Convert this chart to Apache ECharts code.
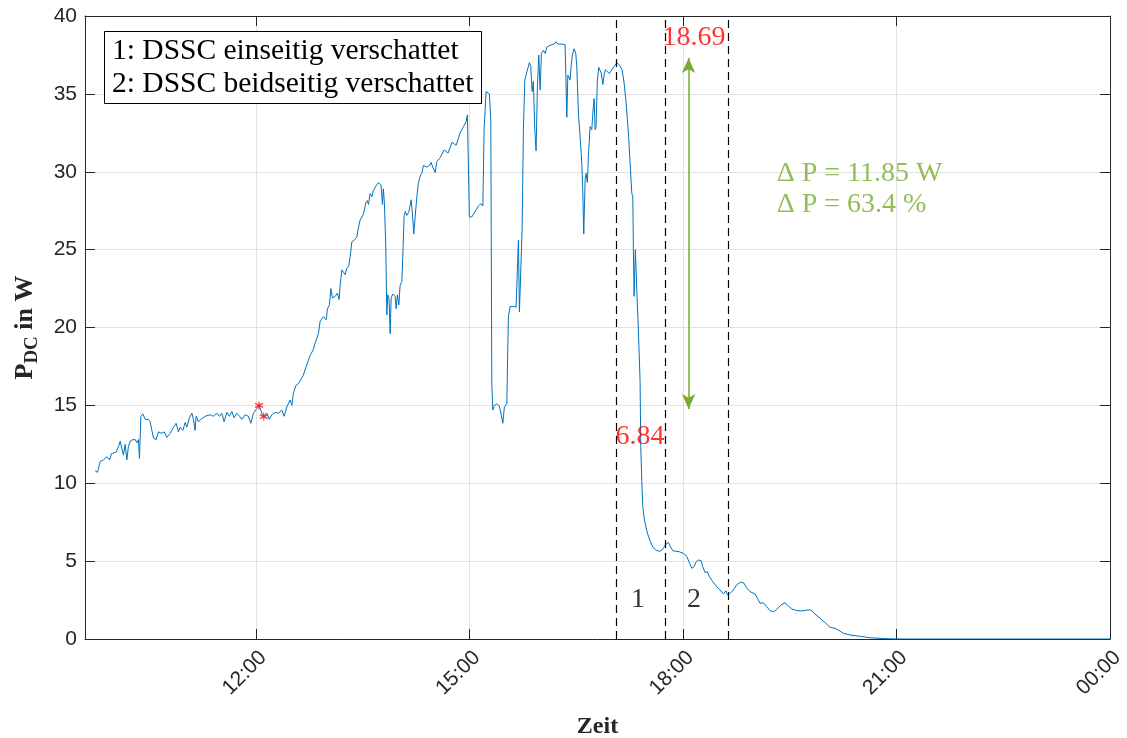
<!DOCTYPE html>
<html>
<head>
<meta charset="utf-8">
<script src="https://cdn.jsdelivr.net/npm/echarts@6/dist/echarts.min.js"></script>
<style>
  html, body { margin: 0; padding: 0; background: #fff; }
  #chart { width: 1127px; height: 738px; }
</style>
</head>
<body>
<div id="chart"></div>
<script>
// Zeitpunkte in Stunden (Dezimal) und gemessene DC-Leistung in W
const zeitStunden = [
  9.743, 9.775, 9.813, 9.859, 9.907, 9.944, 9.972, 10.038, 10.070, 10.094,
  10.118, 10.140, 10.164, 10.188, 10.210, 10.234, 10.272, 10.305, 10.328, 10.351,
  10.365, 10.385, 10.413, 10.445, 10.491, 10.515, 10.539, 10.562, 10.600, 10.632,
  10.680, 10.712, 10.750, 10.796, 10.843, 10.880, 10.913, 10.937, 10.975, 11.007,
  11.031, 11.067, 11.101, 11.123, 11.147, 11.161, 11.194, 11.227, 11.288, 11.358,
  11.404, 11.452, 11.489, 11.522, 11.555, 11.593, 11.629, 11.663, 11.695, 11.733,
  11.770, 11.803, 11.850, 11.896, 11.930, 11.966, 12.014, 12.046, 12.084, 12.112,
  12.155, 12.191, 12.225, 12.271, 12.318, 12.365, 12.398, 12.435, 12.482, 12.506,
  12.528, 12.566, 12.598, 12.622, 12.664, 12.700, 12.739, 12.763, 12.787, 12.809,
  12.833, 12.857, 12.879, 12.903, 12.950, 12.988, 13.006, 13.034, 13.054, 13.076,
  13.114, 13.146, 13.170, 13.184, 13.208, 13.231, 13.254, 13.278, 13.306, 13.325,
  13.349, 13.381, 13.419, 13.441, 13.465, 13.503, 13.521, 13.545, 13.568, 13.582,
  13.606, 13.629, 13.652, 13.690, 13.722, 13.746, 13.760, 13.778, 13.792, 13.806,
  13.826, 13.840, 13.854, 13.872, 13.887, 13.901, 13.924, 13.957, 13.971, 13.989,
  14.009, 14.027, 14.051, 14.065, 14.083, 14.101, 14.121, 14.149, 14.182, 14.200,
  14.219, 14.238, 14.262, 14.284, 14.308, 14.332, 14.354, 14.378, 14.402, 14.439,
  14.462, 14.486, 14.519, 14.543, 14.589, 14.645, 14.701, 14.757, 14.814, 14.870,
  14.916, 14.954, 14.972, 14.986, 15.000, 15.034, 15.057, 15.095, 15.127, 15.161,
  15.189, 15.207, 15.235, 15.281, 15.301, 15.315, 15.329, 15.352, 15.385, 15.422,
  15.446, 15.470, 15.492, 15.526, 15.548, 15.572, 15.619, 15.656, 15.675, 15.689,
  15.703, 15.722, 15.741, 15.759, 15.779, 15.807, 15.843, 15.863, 15.881, 15.899,
  15.919, 15.937, 15.956, 15.975, 15.994, 16.012, 16.040, 16.064, 16.088, 16.124,
  16.158, 16.190, 16.218, 16.237, 16.265, 16.298, 16.345, 16.359, 16.369, 16.383,
  16.397, 16.415, 16.429, 16.447, 16.471, 16.495, 16.509, 16.532, 16.555, 16.579,
  16.593, 16.607, 16.626, 16.640, 16.658, 16.672, 16.696, 16.720, 16.734, 16.752,
  16.766, 16.780, 16.798, 16.818, 16.836, 16.855, 16.874, 16.893, 16.911, 16.939,
  16.967, 17.001, 17.033, 17.071, 17.108, 17.145, 17.174, 17.202, 17.234, 17.258,
  17.282, 17.296, 17.304, 17.314, 17.332, 17.352, 17.374, 17.398, 17.408, 17.422,
  17.436, 17.459, 17.501, 17.539, 17.577, 17.623, 17.669, 17.703, 17.735, 17.764,
  17.796, 17.820, 17.858, 17.904, 17.950, 18.007, 18.054, 18.091, 18.125, 18.157,
  18.185, 18.217, 18.255, 18.279, 18.311, 18.344, 18.372, 18.420, 18.466, 18.522,
  18.568, 18.606, 18.625, 18.663, 18.709, 18.757, 18.813, 18.859, 18.897, 18.943,
  19.014, 19.060, 19.084, 19.130, 19.178, 19.224, 19.271, 19.319, 19.375, 19.435,
  19.481, 19.529, 19.599, 19.670, 19.740, 19.796, 19.857, 19.927, 19.997, 20.067,
  20.137, 20.198, 20.254, 20.348, 20.489, 20.629, 20.770, 21.000, 22.000, 23.000,
  24.000
];
const leistungW = [
  10.8, 10.7, 11.4, 11.5, 11.7, 11.5, 11.9, 12.0, 12.35, 12.7,
  12.7, 11.8, 12.5, 11.5, 12.35, 12.7, 12.8, 12.8, 12.6, 12.8,
  11.6, 14.3, 14.45, 14.1, 14.1, 13.95, 13.4, 12.9, 12.8, 13.3,
  13.2, 13.3, 12.95, 13.2, 13.6, 13.85, 13.3, 13.6, 13.4, 13.9,
  13.6, 14.2, 14.5, 14.1, 13.4, 14.3, 13.95, 14.1, 14.3, 14.4,
  14.3, 14.5, 14.3, 14.5, 13.95, 14.55, 14.3, 14.6, 14.2, 14.5,
  14.3, 14.1, 14.4, 14.3, 13.85, 14.5, 14.8, 15.0, 14.5, 14.28,
  14.5, 14.1, 14.4, 14.55, 14.5, 14.7, 14.3, 14.9, 15.35, 15.0,
  15.8, 16.3, 16.4, 16.5, 16.9, 17.4, 17.9, 18.2, 18.1, 18.6,
  19.0, 18.9, 19.6, 20.4, 20.7, 20.5, 21.2, 21.45, 22.5, 21.9,
  22.0, 22.2, 21.8, 22.7, 23.7, 23.7, 23.4, 23.8, 23.95, 24.55,
  25.5, 25.6, 25.8, 26.4, 26.9, 27.2, 27.45, 28.0, 28.15, 27.9,
  28.6, 28.4, 28.8, 29.1, 29.3, 29.4, 29.15, 27.9, 28.9, 28.0,
  25.2, 20.8, 22.1, 21.8, 19.6, 21.9, 22.15, 22.0, 21.2, 22.1,
  21.45, 22.7, 22.95, 24.55, 27.2, 27.45, 27.2, 27.4, 28.2, 27.3,
  26.0, 27.1, 28.4, 29.3, 29.7, 29.9, 30.4, 30.45, 30.3, 30.4,
  30.6, 30.3, 29.95, 30.65, 30.9, 31.4, 31.2, 31.9, 31.7, 32.5,
  32.9, 33.2, 33.65, 33.55, 27.1, 27.1, 27.1, 27.55, 27.8, 27.95,
  27.8, 32.7, 35.15, 35.0, 33.3, 16.4, 14.7, 15.0, 15.1, 14.95,
  15.0, 13.85, 14.9, 15.1, 20.7, 21.35, 21.35, 21.3, 21.25, 25.6,
  21.0, 20.9, 26.3, 32.7, 35.9, 36.4, 37.0, 36.75, 35.15, 35.8,
  32.7, 31.35, 35.5, 37.5, 35.25, 37.6, 37.8, 37.6, 38.0, 38.1,
  38.15, 38.2, 38.35, 38.2, 38.15, 38.2, 38.15, 38.15, 33.5, 36.2,
  36.1, 35.9, 36.75, 37.5, 37.9, 37.6, 36.75, 33.75, 32.3, 30.55,
  28.8, 26.0, 29.5, 29.9, 29.3, 31.0, 32.9, 32.7, 33.75, 34.7,
  32.7, 32.9, 35.9, 36.7, 36.75, 36.3, 35.6, 36.2, 36.55, 36.65,
  36.3, 36.55, 36.75, 37.0, 36.85, 36.55, 35.7, 34.4, 32.5, 30.55,
  28.6, 28.4, 25.0, 22.0, 25.0, 22.4, 19.85, 16.6, 12.35, 10.2,
  8.5, 7.65, 6.8, 6.3, 5.9, 5.7, 5.63, 5.7, 5.9, 6.1,
  6.2, 5.97, 5.67, 5.63, 5.6, 5.5, 5.3, 4.9, 4.54, 4.64,
  4.96, 5.07, 5.03, 4.64, 4.26, 4.32, 4.0, 3.68, 3.4, 3.15,
  2.89, 3.1, 2.83, 2.93, 3.15, 3.49, 3.66, 3.58, 3.26, 3.04,
  2.89, 2.5, 2.29, 2.33, 2.07, 1.82, 1.75, 1.9, 2.18, 2.33,
  2.12, 1.93, 1.82, 1.8, 1.86, 1.86, 1.6, 1.33, 1.05, 0.75,
  0.69, 0.53, 0.37, 0.26, 0.17, 0.08, 0.04, 0.0, 0.0, 0.0,
  0.0
];

// Markierte Messpunkte (rote Sternchen)
const markerStunden = [12.046, 12.112];
const markerLeistungW = [15.0, 14.28];

// Gestrichelte Zeitmarken: Beginn, Ende Verschattung 1, Ende Verschattung 2
const grenzStunden = [17.065, 17.745, 18.644];

// Bereichsnummern unter den Zeitmarken
const bereichTexte = ['1', '2'];
const bereichStunden = [17.370, 18.157];
const bereichLeistungW = [2.5, 2.5];

// Leistung vor und nach der Verschattung
const leistungVorherW = 18.69;
const leistungNachherW = 6.84;
const vorherPos = [18.157, 38.6];
const nachherPos = [17.398, 12.97];

// Doppelpfeil und Beschriftung der Leistungsdifferenz
const pfeilStunde = 18.08;
const pfeilLeistungW = [14.77, 37.3];
const deltaTextPos = [19.318, 29.87];
const deltaTextPos2 = [19.318, 27.87];

// Achsenteilung
const xTickStunden = [12, 15, 18, 21, 24];
const xMin = 9.6, xMax = 24;
const yMin = 0, yMax = 40, yStep = 5;

const legendeZeilen = ['1: DSSC einseitig verschattet', '2: DSSC beidseitig verschattet'];

const SERIF = '"Liberation Serif", "Times New Roman", Times, serif';
const SANS = '"Liberation Sans", Arial, Helvetica, sans-serif';
const AXIS = '#262626';
const GRID = '#e2e2e2';
const GRUEN = '#77AC30';

const deltaW = leistungVorherW - leistungNachherW;
const deltaProzent = deltaW / leistungVorherW * 100;

const messreihe = zeitStunden.map((t, i) => [t, leistungW[i]]);
const marker = markerStunden.map((t, i) => [t, markerLeistungW[i]]);

function zeitLabel(v) {
  const h = Math.round(v) % 24;
  return (h < 10 ? '0' : '') + h + ':00';
}

const textPunkte = [
  ...bereichTexte.map((s, i) => ({
    value: [bereichStunden[i], bereichLeistungW[i]],
    label: { formatter: s, color: '#000' }
  })),
  { value: vorherPos, label: { formatter: leistungVorherW.toFixed(2), color: '#ff0000' } },
  { value: nachherPos, label: { formatter: leistungNachherW.toFixed(2), color: '#ff0000' } },
  { value: deltaTextPos, label: { formatter: '\u0394 P = ' + deltaW.toFixed(2) + ' W', color: GRUEN, align: 'left' } },
  { value: deltaTextPos2, label: { formatter: '\u0394 P = ' + deltaProzent.toFixed(1) + ' %', color: GRUEN, align: 'left' } }
];

const chart = echarts.init(document.getElementById('chart'), null, { renderer: 'canvas' });

const sternPfad = 'path://M0,-5L0,5M-4.33,-2.5L4.33,2.5M-4.33,2.5L4.33,-2.5';

chart.setOption({
  animation: false,
  backgroundColor: '#ffffff',
  title: {
    text: legendeZeilen.join('\n'),
    left: 104,
    top: 31,
    padding: [4, 8, 3, 8],
    borderColor: '#000',
    borderWidth: 1,
    backgroundColor: '#fff',
    textStyle: {
      fontFamily: SERIF,
      fontSize: 29.5,
      fontWeight: 'normal',
      lineHeight: 33,
      color: '#000'
    },
    z: 10
  },
  grid: { left: 85, right: 17, top: 16, bottom: 99, containLabel: false, outerBoundsMode: 'none' },
  xAxis: [
    {
      type: 'value',
      position: 'bottom',
      min: xMin,
      max: xMax,
      name: 'Zeit',
      nameLocation: 'middle',
      nameGap: 76,
      nameTextStyle: { fontFamily: SERIF, fontWeight: 'bold', fontSize: 24, color: AXIS },
      axisLine: { show: true, onZero: false, lineStyle: { color: AXIS, width: 1 } },
      axisTick: { show: true, inside: true, length: 10, customValues: xTickStunden, lineStyle: { color: AXIS } },
      axisLabel: {
        show: true,
        customValues: xTickStunden,
        rotate: 45,
        margin: 8,
        verticalAlign: 'top',
        fontFamily: SANS,
        fontSize: 21,
        color: AXIS,
        formatter: zeitLabel
      },
      splitLine: { show: true, lineStyle: { color: GRID, width: 1 } }
    },
    {
      type: 'value',
      position: 'top',
      min: xMin,
      max: xMax,
      axisLine: { show: true, onZero: false, lineStyle: { color: AXIS, width: 1 } },
      axisTick: { show: true, inside: true, length: 10, customValues: xTickStunden, lineStyle: { color: AXIS } },
      axisLabel: { show: false },
      splitLine: { show: false }
    }
  ],
  yAxis: [
    {
      type: 'value',
      position: 'left',
      min: yMin,
      max: yMax,
      interval: yStep,
      name: '{p|P}{s|DC}{p| in W}',
      nameLocation: 'middle',
      nameRotate: 90,
      nameGap: 43,
      nameTextStyle: {
        rich: {
          p: { fontFamily: SERIF, fontWeight: 'bold', fontSize: 26, color: AXIS },
          s: { fontFamily: SERIF, fontWeight: 'bold', fontSize: 19, color: AXIS, padding: [15, 0, 0, 0] }
        }
      },
      axisLine: { show: true, onZero: false, lineStyle: { color: AXIS, width: 1 } },
      axisTick: { show: true, inside: true, length: 10, lineStyle: { color: AXIS } },
      axisLabel: { show: true, margin: 8, fontFamily: SANS, fontSize: 21, color: AXIS },
      splitLine: { show: true, lineStyle: { color: GRID, width: 1 } }
    },
    {
      type: 'value',
      position: 'right',
      min: yMin,
      max: yMax,
      interval: yStep,
      axisLine: { show: true, onZero: false, lineStyle: { color: AXIS, width: 1 } },
      axisTick: { show: true, inside: true, length: 10, lineStyle: { color: AXIS } },
      axisLabel: { show: false },
      splitLine: { show: false }
    }
  ],
  series: [
    {
      name: 'P_DC',
      type: 'line',
      xAxisIndex: 0,
      yAxisIndex: 0,
      data: messreihe,
      showSymbol: false,
      symbol: 'none',
      lineStyle: { color: '#0072BD', width: 1 },
      z: 3,
      markLine: {
        silent: true,
        symbol: 'none',
        label: { show: false },
        lineStyle: { color: '#000', width: 1.2, type: [8, 5] },
        data: grenzStunden.map(t => ({ xAxis: t }))
      }
    },
    {
      name: 'Marker',
      type: 'scatter',
      data: marker,
      symbol: sternPfad,
      symbolSize: 8,
      itemStyle: { color: '#ff0000', borderColor: '#ff0000', borderWidth: 1.2 },
      z: 5
    },
    {
      name: 'Beschriftung',
      type: 'scatter',
      data: textPunkte,
      symbolSize: 0,
      silent: true,
      label: {
        show: true,
        position: 'inside',
        fontFamily: SERIF,
        fontSize: 28
      },
      z: 6,
      markLine: {
        silent: true,
        symbol: ['arrow', 'arrow'],
        symbolSize: [10, 15],
        label: { show: false },
        lineStyle: { color: GRUEN, width: 1.5, type: 'solid' },
        data: [[
          { coord: [pfeilStunde, pfeilLeistungW[0]] },
          { coord: [pfeilStunde, pfeilLeistungW[1]] }
        ]]
      }
    }
  ]
});
</script>
</body>
</html>
